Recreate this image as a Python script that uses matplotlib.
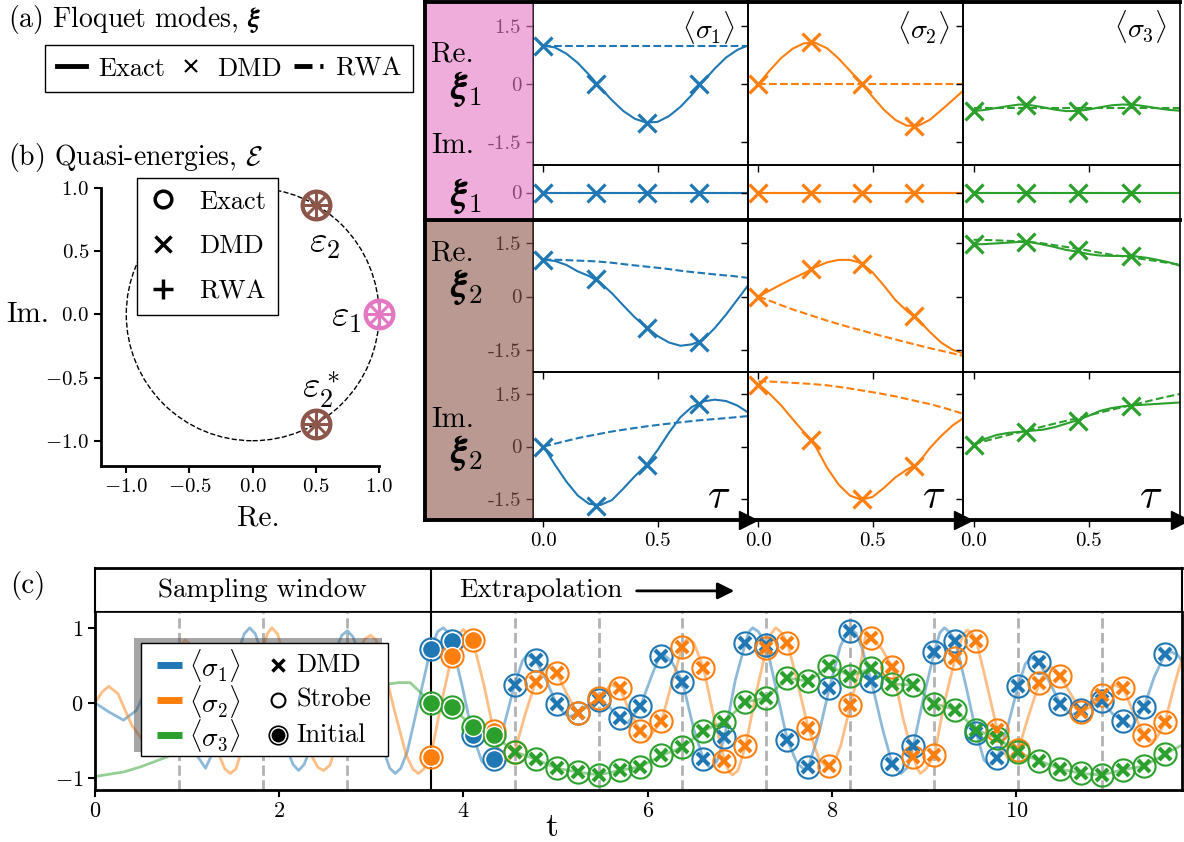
import numpy as np
import matplotlib.pyplot as plt
from matplotlib.lines import Line2D
from matplotlib.patches import Rectangle, Circle

plt.rcParams['font.family'] = 'cmr10'
plt.rcParams['mathtext.fontset'] = 'cm'
plt.rcParams['axes.formatter.use_mathtext'] = True

W, H = 1184, 842
C1, C2, C3 = 'tab:blue', 'tab:orange', 'tab:green'
PINK, BROWN = 'tab:pink', 'tab:brown'

# ---------------- (a) Floquet modes ----------------
tau_dmd = [0.0, 0.228, 0.455, 0.683]
tau = [0.0, 0.05, 0.10, 0.15, 0.20, 0.25, 0.30, 0.35, 0.40, 0.45, 0.50, 0.55, 0.60, 0.65, 0.70, 0.75, 0.80, 0.85, 0.895]
tau_rwa = [0.0, 0.075, 0.15, 0.228, 0.30, 0.38, 0.455, 0.53, 0.61, 0.683, 0.76, 0.83, 0.895]

# Re xi_1
re1_exact = [[1.00, 0.95, 0.79, 0.55, 0.24, -0.10, -0.42, -0.70, -0.90, -1.00, -0.98, -0.83, -0.59, -0.28, 0.07, 0.40, 0.69, 0.89, 1.00],
             [0.00, 0.36, 0.68, 0.92, 1.06, 1.07, 0.93, 0.67, 0.35, 0.03, -0.33, -0.67, -0.93, -1.08, -1.08, -0.93, -0.68, -0.42, -0.18],
             [-0.70, -0.67, -0.62, -0.57, -0.53, -0.55, -0.60, -0.66, -0.70, -0.70, -0.66, -0.60, -0.55, -0.53, -0.54, -0.58, -0.63, -0.67, -0.69]]
re1_rwa = [[1.0] * 13, [0.0] * 13, [-0.63] * 13]
re1_dmd = [[1.0, 0.0, -1.0, 0.0], [0.0, 1.09, 0.0, -1.1], [-0.69, -0.53, -0.69, -0.53]]
# Im xi_1
im1_exact = [[0.0] * 19, [0.0] * 19, [0.0] * 19]
im1_rwa = [[0.0] * 13, [0.0] * 13, [0.0] * 13]
im1_dmd = [[0.0] * 4, [0.0] * 4, [0.0] * 4]
# Re xi_2
re2_exact = [[1.03, 0.99, 0.88, 0.70, 0.57, 0.38, 0.09, -0.25, -0.58, -0.85, -1.10, -1.28, -1.37, -1.33, -1.20, -0.88, -0.50, -0.08, 0.30],
             [0.00, 0.17, 0.34, 0.50, 0.65, 0.82, 0.95, 1.02, 1.02, 0.93, 0.67, 0.30, -0.10, -0.40, -0.65, -0.98, -1.28, -1.48, -1.58],
             [1.45, 1.46, 1.48, 1.50, 1.52, 1.51, 1.45, 1.38, 1.30, 1.25, 1.18, 1.14, 1.13, 1.13, 1.12, 1.08, 1.02, 0.95, 0.86]]
re2_rwa = [[1.03, 1.02, 1.00, 0.98, 0.94, 0.88, 0.83, 0.78, 0.71, 0.66, 0.61, 0.57, 0.52],
           [0.00, -0.18, -0.36, -0.52, -0.67, -0.82, -0.95, -1.08, -1.21, -1.33, -1.45, -1.55, -1.65],
           [1.58, 1.57, 1.55, 1.53, 1.48, 1.40, 1.33, 1.24, 1.15, 1.09, 1.02, 0.95, 0.89]]
re2_dmd = [[1.03, 0.48, -0.87, -1.27], [0.0, 0.76, 0.91, -0.55], [1.45, 1.53, 1.29, 1.13]]
# Im xi_2
im2_exact = [[0.00, -0.52, -1.00, -1.40, -1.64, -1.67, -1.53, -1.20, -0.85, -0.54, -0.10, 0.40, 0.84, 1.13, 1.29, 1.34, 1.30, 1.17, 0.98],
             [1.78, 1.50, 1.17, 0.78, 0.40, 0.00, -0.60, -1.08, -1.40, -1.52, -1.44, -1.18, -0.88, -0.66, -0.48, -0.05, 0.30, 0.60, 0.80],
             [0.04, 0.22, 0.33, 0.39, 0.42, 0.45, 0.48, 0.55, 0.65, 0.75, 0.88, 1.02, 1.10, 1.15, 1.18, 1.20, 1.22, 1.24, 1.26]]
im2_rwa = [[0.00, 0.12, 0.24, 0.34, 0.43, 0.51, 0.58, 0.64, 0.70, 0.75, 0.79, 0.83, 0.87],
           [1.86, 1.85, 1.82, 1.79, 1.75, 1.68, 1.60, 1.52, 1.42, 1.31, 1.20, 1.07, 0.94],
           [0.07, 0.20, 0.33, 0.45, 0.57, 0.70, 0.82, 0.94, 1.07, 1.18, 1.30, 1.41, 1.50]]
im2_dmd = [[0.0, -1.69, -0.52, 1.22], [1.76, 0.19, -1.51, -0.55], [0.05, 0.42, 0.74, 1.17]]

# ---------------- (b) quasi-energies ----------------
eps_re = [1.0, 0.5, 0.5]
eps_im = [0.0, 0.866, -0.866]
eps_col = [PINK, BROWN, BROWN]

# ---------------- (c) time series ----------------
T_DRIVE = 0.911
t_start = 4 * T_DRIVE
t_strobe = t_start + np.arange(36) * T_DRIVE / 4
n_init = 4

dmd1 = [0.72, 0.82, -0.43, -0.75, 0.24, 0.57, -0.02, -0.14, 0.04, -0.20, -0.04, 0.63, 0.28, -0.75, -0.46, 0.80, 0.77, -0.50,
        -0.85, 0.20, 0.96, 0.29, -0.82, -0.57, 0.68, 0.83, -0.40, -0.74, 0.23, 0.54, -0.01, -0.10, 0.02, -0.24, -0.05, 0.65]
dmd2 = [-0.72, 0.62, 0.84, -0.37, -0.66, 0.28, 0.40, -0.14, 0.06, 0.20, -0.38, -0.24, 0.75, 0.47, -0.77, -0.58, 0.73, 0.80,
        -0.34, -0.84, -0.03, 0.87, 0.48, -0.72, -0.70, 0.60, 0.83, -0.36, -0.63, 0.26, 0.36, -0.12, 0.10, 0.20, -0.43, -0.25]
dmd3 = [0.00, -0.05, -0.32, -0.43, -0.65, -0.75, -0.87, -0.92, -0.96, -0.90, -0.85, -0.70, -0.59, -0.37, -0.25, 0.01, 0.07, 0.33,
        0.29, 0.49, 0.36, 0.46, 0.25, 0.24, -0.01, -0.09, -0.36, -0.47, -0.66, -0.77, -0.88, -0.94, -0.96, -0.89, -0.84, -0.68]

t_s1 = [0.00, 0.15, 0.31, 0.45, 0.58, 0.70, 0.82, 0.95, 1.08, 1.20, 1.32, 1.44, 1.56, 1.62, 1.68, 1.74, 1.80, 1.95, 2.08, 2.15,
        2.21, 2.27, 2.34, 2.48, 2.61, 2.68, 2.74, 2.80, 2.87, 3.00, 3.13, 3.20, 3.26, 3.32, 3.39, 3.52, 3.644, 3.72, 3.78, 3.84,
        3.872, 3.99, 4.10, 4.20, 4.26, 4.327, 4.44, 4.555, 4.64, 4.69, 4.783, 4.90, 5.011, 5.10, 5.16, 5.239, 5.35, 5.466,
        5.58, 5.694, 5.78, 5.922, 6.04, 6.12, 6.17, 6.26, 6.378, 6.50, 6.605, 6.68, 6.75, 6.833, 6.95, 7.061, 7.10, 7.14,
        7.20, 7.289, 7.40, 7.517, 7.62, 7.70, 7.744, 7.86, 7.972, 8.09, 8.16, 8.21, 8.26, 8.32, 8.428, 8.55, 8.656, 8.75,
        8.82, 8.883, 9.00, 9.111, 9.17, 9.22, 9.28, 9.339, 9.45, 9.567, 9.65, 9.71, 9.795, 9.91, 10.022, 10.10, 10.16,
        10.25, 10.36, 10.478, 10.60, 10.706, 10.85, 10.934, 11.05, 11.161, 11.25, 11.389, 11.50, 11.617, 11.68, 11.75, 11.82]
s1 = [0.00, -0.12, -0.23, -0.10, 0.25, 0.50, 0.35, -0.15, -0.65, -0.87, -0.55, 0.05, 0.70, 0.92, 1.00, 0.92, 0.70, 0.00,
      -0.60, -0.82, -0.90, -0.82, -0.60, 0.05, 0.70, 0.90, 0.96, 0.88, 0.65, 0.00, -0.62, -0.87, -0.94, -0.87, -0.65, 0.05,
      0.72, 0.95, 1.00, 0.93, 0.82, 0.20, -0.43, -0.78, -0.83, -0.75, -0.30, 0.24, 0.56, 0.64, 0.57, 0.30, -0.02, -0.15,
      -0.18, -0.14, -0.03, 0.04, -0.05, -0.20, -0.27, -0.04, 0.35, 0.60, 0.65, 0.55, 0.28, -0.35, -0.75, -0.87, -0.78,
      -0.46, 0.30, 0.80, 0.95, 1.00, 0.95, 0.77, 0.15, -0.50, -0.80, -0.89, -0.85, -0.40, 0.20, 0.75, 0.93, 0.98, 0.93,
      0.75, 0.29, -0.35, -0.82, -0.94, -0.86, -0.57, 0.10, 0.68, 0.93, 1.00, 0.94, 0.83, 0.25, -0.40, -0.76, -0.83, -0.74,
      -0.30, 0.23, 0.52, 0.60, 0.54, 0.28, -0.01, -0.16, -0.10, 0.05, 0.02, -0.15, -0.24, -0.33, -0.05, 0.35, 0.65, 0.68,
      0.64, 0.53]

t_s2 = [0.00, 0.08, 0.15, 0.25, 0.40, 0.55, 0.70, 0.85, 0.92, 0.98, 1.04, 1.10, 1.22, 1.35, 1.41, 1.47, 1.53, 1.60, 1.72, 1.82,
        1.87, 1.92, 1.98, 2.05, 2.20, 2.35, 2.42, 2.48, 2.55, 2.62, 2.75, 2.87, 2.93, 2.99, 3.05, 3.11, 3.25, 3.38, 3.45, 3.51,
        3.57, 3.644, 3.76, 3.872, 3.94, 4.00, 4.10, 4.22, 4.327, 4.40, 4.44, 4.50, 4.555, 4.67, 4.783, 4.91, 5.011, 5.13,
        5.239, 5.35, 5.466, 5.60, 5.694, 5.80, 5.922, 6.00, 6.15, 6.27, 6.378, 6.43, 6.50, 6.605, 6.72, 6.833, 6.88, 6.92,
        6.98, 7.061, 7.18, 7.289, 7.34, 7.39, 7.45, 7.517, 7.63, 7.744, 7.86, 7.93, 7.972, 8.03, 8.10, 8.20, 8.31, 8.37,
        8.428, 8.54, 8.656, 8.77, 8.883, 8.93, 8.96, 9.02, 9.111, 9.22, 9.339, 9.42, 9.47, 9.52, 9.567, 9.68, 9.795, 9.87,
        9.91, 9.96, 10.022, 10.14, 10.25, 10.33, 10.38, 10.478, 10.60, 10.706, 10.82, 10.934, 11.05, 11.161, 11.28, 11.389,
        11.45, 11.52, 11.617, 11.72, 11.82]
s2 = [0.00, 0.15, 0.22, 0.12, -0.30, -0.55, -0.20, 0.50, 0.74, 0.84, 0.77, 0.55, -0.10, -0.70, -0.88, -0.94, -0.88, -0.60,
      0.10, 0.70, 0.92, 1.00, 0.92, 0.65, -0.10, -0.70, -0.86, -0.90, -0.83, -0.55, 0.15, 0.70, 0.85, 0.90, 0.84, 0.60,
      -0.10, -0.70, -0.88, -0.94, -0.88, -0.72, 0.00, 0.62, 0.90, 0.98, 0.84, 0.25, -0.37, -0.70, -0.78, -0.75, -0.66,
      -0.15, 0.28, 0.51, 0.40, 0.10, -0.14, -0.05, 0.06, 0.24, 0.20, -0.10, -0.38, -0.48, -0.24, 0.30, 0.75, 0.86, 0.80,
      0.47, -0.20, -0.77, -0.91, -0.96, -0.90, -0.58, 0.15, 0.73, 0.92, 1.00, 0.94, 0.80, 0.25, -0.34, -0.75, -0.84, -0.84,
      -0.78, -0.55, -0.03, 0.50, 0.93, 0.87, 0.72, 0.48, -0.20, -0.72, -0.88, -0.94, -0.88, -0.70, 0.00, 0.60, 0.90, 0.97,
      0.93, 0.83, 0.25, -0.36, -0.66, -0.74, -0.70, -0.63, -0.15, 0.26, 0.45, 0.48, 0.36, 0.10, -0.12, -0.05, 0.10, 0.24,
      0.20, -0.15, -0.43, -0.52, -0.48, -0.25, 0.25, 0.68]

t_s3 = [0.00, 0.31, 0.50, 0.78, 1.00, 1.40, 1.80, 2.20, 2.60, 2.90, 3.17, 3.30, 3.42, 3.55, 3.644, 3.872, 4.10, 4.327, 4.555,
        4.783, 5.011, 5.239, 5.466, 5.694, 5.922, 6.15, 6.378, 6.605, 6.833, 7.061, 7.289, 7.517, 7.744, 7.972, 8.20, 8.428,
        8.656, 8.883, 9.111, 9.339, 9.567, 9.795, 10.022, 10.25, 10.478, 10.706, 10.934, 11.161, 11.389, 11.617, 11.82]
s3 = [-0.98, -0.92, -0.85, -0.72, -0.55, -0.20, 0.15, 0.35, 0.40, 0.33, 0.25, 0.27, 0.27, 0.12, 0.00, -0.05, -0.32, -0.43,
      -0.65, -0.75, -0.87, -0.92, -0.96, -0.90, -0.85, -0.70, -0.59, -0.37, -0.25, 0.01, 0.07, 0.33, 0.29, 0.49, 0.36, 0.46,
      0.25, 0.24, -0.01, -0.09, -0.36, -0.47, -0.66, -0.77, -0.88, -0.94, -0.96, -0.89, -0.84, -0.68, -0.55]


def box(l, t, r, b):
    return [l / W, 1 - b / H, (r - l) / W, (b - t) / H]


def fx(x):
    return x / W


def fy(y):
    return 1 - y / H


fig = plt.figure(figsize=(W / 100, H / 100), dpi=100)

# ----- grid of Floquet modes -----
cols = [(533, 748), (748, 963), (963, 1180)]
rows = [(2, 165), (165, 220), (220, 372), (372, 520)]
data = [(re1_exact, re1_rwa, re1_dmd), (im1_exact, im1_rwa, im1_dmd),
        (re2_exact, re2_rwa, re2_dmd), (im2_exact, im2_rwa, im2_dmd)]
colors = [C1, C2, C3]

fig.patches.append(Rectangle((fx(425), fy(220)), 108 / W, 218 / H, transform=fig.transFigure,
                             facecolor=PINK, alpha=0.6, zorder=0))
fig.patches.append(Rectangle((fx(425), fy(520)), 108 / W, 300 / H, transform=fig.transFigure,
                             facecolor=BROWN, alpha=0.6, zorder=0))

for i, (r0, r1) in enumerate(rows):
    exact, rwa, dmd = data[i]
    for j, (c0, c1) in enumerate(cols):
        ax = fig.add_axes(box(c0, r0, c1, r1))
        ax.set_facecolor('none')
        ax.plot(tau, exact[j], color=colors[j], lw=1.5)
        ax.plot(tau_rwa, rwa[j], color=colors[j], lw=1.5, ls='--')
        ax.plot(tau_dmd, dmd[j], 'x', color=colors[j], ms=13, mew=2.3, clip_on=False)
        ax.set_xlim(-0.046, 0.896)
        if i == 1:
            ax.set_ylim(-0.71, 0.71)
            ax.set_yticks([0])
            ax.set_yticklabels(['0'])
            ax.set_xticks([])
        else:
            ax.set_ylim(-2.1, 2.13)
            ax.set_yticks([-1.5, 0, 1.5])
            ax.set_yticklabels(['-1.5', '0', '1.5'])
            ax.set_xticks([0, 0.5])
            ax.set_xticklabels(['0.0', '0.5'])
        ax.tick_params(labelsize=15, length=5, width=1)
        if j > 0:
            ax.tick_params(labelleft=False)
        if i < 3:
            ax.tick_params(labelbottom=False)
        for s in ax.spines.values():
            s.set_linewidth(1.2)
        if i == 0:
            ax.spines['top'].set_linewidth(2.8)
            ax.text(0.94, 0.96, r'$\langle\sigma_%d\rangle$' % (j + 1), transform=ax.transAxes,
                    ha='right', va='top', fontsize=20)
        if i == 2:
            ax.spines['top'].set_linewidth(2.8)
        if i == 3:
            ax.spines['bottom'].set_linewidth(2.8)
            ax.plot(1, 0, '>k', ms=13, transform=ax.transAxes, clip_on=False)
            ax.text(0.92, 0.03, r'$\tau$', transform=ax.transAxes, ha='right', va='bottom', fontsize=30)

# thick frame around the label column
for (x0, y0, x1, y1) in [(425, 2, 533, 2), (425, 220, 533, 220), (425, 520, 533, 520), (425, 2, 425, 520)]:
    fig.add_artist(Line2D([fx(x0), fx(x1)], [fy(y0), fy(y1)], color='k', lw=2.8))

row_labels = [('Re.', r'$\boldsymbol{\xi}_1$', 54, 89), ('Im.', r'$\boldsymbol{\xi}_1$', 146, 196),
              ('Re.', r'$\boldsymbol{\xi}_2$', 253, 287), ('Im.', r'$\boldsymbol{\xi}_2$', 420, 453)]
for part, sym, y_txt, y_sym in row_labels:
    fig.text(fx(431), fy(y_txt), part, fontsize=21, va='center', ha='left')
    fig.text(fx(450), fy(y_sym), sym, fontsize=28, va='center', ha='left')

fig.text(fx(8), fy(20), r'(a) Floquet modes, $\boldsymbol{\xi}$', fontsize=20, va='center')
leg_a = [Line2D([], [], color='k', lw=3.5), Line2D([], [], color='k', ls='', marker='x', ms=8, mew=1.5),
         Line2D([], [], color='k', lw=3.5, ls='--')]
fig.legend(leg_a, ['Exact', 'DMD', 'RWA'], ncol=3, loc='upper left', bbox_to_anchor=(fx(45), fy(45)),
           fontsize=19, frameon=True, fancybox=False, edgecolor='k', framealpha=1, borderaxespad=0,
           handlelength=1.1, columnspacing=0.45, handletextpad=0.45, borderpad=0.45)

# ----- (b) quasi-energies -----
fig.text(fx(8), fy(157), r'(b) Quasi-energies, $\boldsymbol{\mathcal{E}}$', fontsize=20, va='center')
axb = fig.add_axes(box(101, 188, 379, 466))
axb.add_patch(Circle((0, 0), 1, fill=False, ls='--', lw=1, color='k'))
for x, y, c in zip(eps_re, eps_im, eps_col):
    axb.plot(x, y, 'o', mfc='none', mec=c, ms=20, mew=3, clip_on=False, zorder=5)
    axb.plot(x, y, 'x', color=c, ms=15, mew=2.2, clip_on=False, zorder=5)
    axb.plot(x, y, '+', color=c, ms=20, mew=2.2, clip_on=False, zorder=5)
axb.text(0.57, 0.55, r'$\varepsilon_2$', fontsize=27, ha='center', va='center')
axb.text(0.74, -0.03, r'$\varepsilon_1$', fontsize=27, ha='center', va='center')
axb.text(0.54, -0.6, r'$\varepsilon_2^*$', fontsize=27, ha='center', va='center')
axb.set_xlim(-1.2, 1.0)
axb.set_ylim(-1.2, 1.0)
axb.set_xticks([-1, -0.5, 0, 0.5, 1])
axb.set_yticks([-1, -0.5, 0, 0.5, 1])
axb.tick_params(labelsize=15, width=1.5, length=5)
axb.spines['top'].set_visible(False)
axb.spines['right'].set_visible(False)
axb.spines['left'].set_linewidth(2)
axb.spines['bottom'].set_linewidth(2)
axb.set_xlabel('Re.', fontsize=21, ha='center', va='center')
axb.xaxis.set_label_coords(0.565, -0.19)
axb.set_ylabel('Im.', fontsize=21, rotation=0, ha='center', va='center')
axb.yaxis.set_label_coords(-0.265, 0.543)
leg_b = [Line2D([], [], color='k', ls='', marker='o', mfc='none', ms=12, mew=2.5),
         Line2D([], [], color='k', ls='', marker='x', ms=12, mew=2.5),
         Line2D([], [], color='k', ls='', marker='+', ms=14, mew=2.5)]
axb.legend(leg_b, ['Exact', 'DMD', 'RWA'], loc='upper left', bbox_to_anchor=(0.129, 1.036), fontsize=19,
           fancybox=False, edgecolor='k', framealpha=1, handlelength=1.1, labelspacing=0.8, borderpad=0.45,
           borderaxespad=0)

# ----- (c) time series -----
fig.text(fx(10), fy(585), '(c)', fontsize=21, va='center')
axh = fig.add_axes(box(95, 568, 1182, 612))
axh.set_xlim(0, 11.8)
axh.set_ylim(0, 1)
axh.set_xticks([])
axh.set_yticks([])
for s in axh.spines.values():
    s.set_linewidth(1.5)
axh.spines['top'].set_linewidth(2)
axh.axvline(t_start, color='k', lw=1.5)
axh.text(t_start / 2, 0.5, 'Sampling window', fontsize=19.5, ha='center', va='center')
axh.text(3.95, 0.5, 'Extrapolation', fontsize=19.5, ha='left', va='center')
axh.annotate('', xy=(6.97, 0.48), xytext=(5.85, 0.48),
             arrowprops=dict(arrowstyle='-|>', color='k', lw=2, mutation_scale=25))

axc = fig.add_axes(box(95, 612, 1182, 790))
for k in range(1, 14):
    if k != 4:
        axc.axvline(k * T_DRIVE, color='gray', ls='--', lw=2, alpha=0.6, zorder=0)
axc.axvline(t_start, color='k', lw=1.5, zorder=1)

for tt, ss, dd, c in [(t_s1, s1, dmd1, C1), (t_s2, s2, dmd2, C2), (t_s3, s3, dmd3, C3)]:
    axc.plot(tt, ss, color=c, lw=2, alpha=0.5)
    axc.plot(t_strobe, dd, 'o', mfc='none', mec=c, ms=16, mew=1.5, zorder=4)
    axc.plot(t_strobe[n_init:], dd[n_init:], 'x', color=c, ms=9, mew=3, zorder=5)
    axc.plot(t_strobe[:n_init], dd[:n_init], 'o', mfc=c, mec='white', ms=13, mew=1, zorder=5)

axc.set_xlim(0, 11.8)
axc.set_ylim(-1.16, 1.21)
axc.set_xticks([0, 2, 4, 6, 8, 10])
axc.set_yticks([-1, 0, 1])
axc.tick_params(labelsize=16, width=1.5, length=5)
for s in axc.spines.values():
    s.set_linewidth(2)
axc.spines['top'].set_linewidth(1.2)
axc.set_xlabel('t', fontsize=24)
axc.xaxis.set_label_coords(0.42, -0.13)

# legend of panel (c): drawn as a boxed key with a shadow offset up-left
fig.add_artist(Rectangle((fx(134), fy(752)), 248 / W, 114 / H, transform=fig.transFigure,
                         facecolor='0.3', edgecolor='none', alpha=0.5, zorder=0.5))
fig.add_artist(Rectangle((fx(141), fy(756)), 247 / W, 113 / H, transform=fig.transFigure,
                         facecolor='white', edgecolor='k', lw=1, zorder=0.6))
key_rows = [665, 700, 735]
key_labels = [r'$\langle\sigma_1\rangle$', r'$\langle\sigma_2\rangle$', r'$\langle\sigma_3\rangle$']
for y, c, lab in zip(key_rows, [C1, C2, C3], key_labels):
    fig.add_artist(Line2D([fx(157), fx(182)], [fy(y), fy(y)], color=c, lw=5, solid_capstyle='butt', zorder=2))
    fig.text(fx(189), fy(y + 1), lab, fontsize=19.5, ha='left', va='center', zorder=3)
fig.add_artist(Line2D([fx(278)], [fy(key_rows[0])], color='k', ls='', marker='x', ms=9, mew=2.5, zorder=2))
fig.add_artist(Line2D([fx(278)], [fy(key_rows[1])], color='k', ls='', marker='o', mfc='none', ms=10, mew=1.5, zorder=2))
fig.add_artist(Line2D([fx(278)], [fy(key_rows[2])], color='k', ls='', marker='o', mfc='none', ms=13, mew=1.5, zorder=2))
fig.add_artist(Line2D([fx(278)], [fy(key_rows[2])], color='k', ls='', marker='o', mfc='k', mec='white', ms=11, mew=1,
                      zorder=2.1))
for y, lab in zip(key_rows, ['DMD', 'Strobe', 'Initial']):
    fig.text(fx(296), fy(y), lab, fontsize=19, ha='left', va='center', zorder=3)

fig.savefig('out.png', dpi=100)
